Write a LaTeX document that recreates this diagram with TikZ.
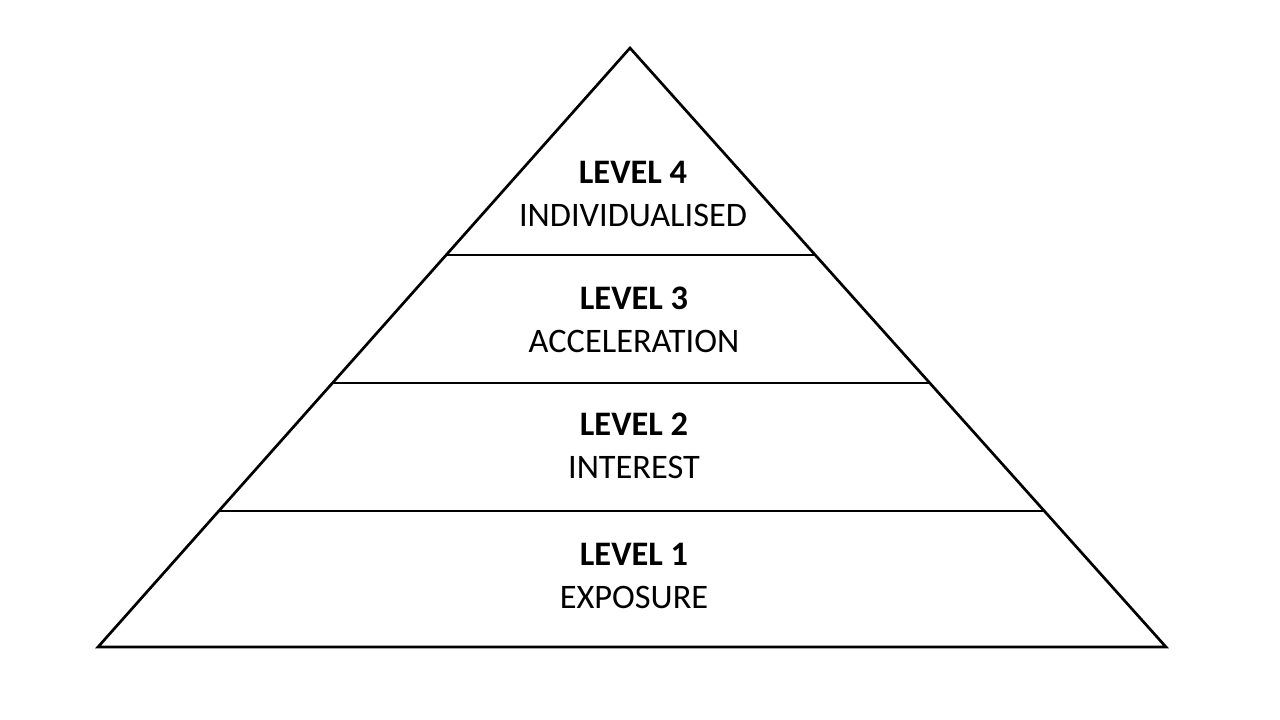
\documentclass[tikz,border=0pt]{standalone}
\usepackage{fontspec}
\setmainfont{Carlito}
\usetikzlibrary{calc}

\begin{document}
\begin{tikzpicture}
   [x=1bp,y=-1bp,line width=2.7bp,
    every node/.style={align=center,font=\fontsize{34.5}{43}\selectfont,inner sep=0pt}]

  \useasboundingbox (0,0) rectangle (1280,720);

  \coordinate (top) at (630,48);
  \coordinate (bl) at (98,647);
  \coordinate (br) at (1166,647);

  \draw[line join=miter] (top) -- (br) -- (bl) -- cycle;

  \foreach \t/\n in {0.3456/a,0.5593/b,0.7730/c}
  {
    \coordinate (l\n) at ($(top)!\t!(bl)$);
    \coordinate (r\n) at ($(top)!\t!(br)$);
    \draw (l\n) -- (r\n);
  }

  \node (lev4) at (633,194) {\textbf{LEVEL 4}\\INDIVIDUALISED};
  \node (lev3) at (634,320) {\textbf{LEVEL 3}\\ACCELERATION};
  \node (lev2) at (634,446) {\textbf{LEVEL 2}\\INTEREST};
  \node (lev1) at (634,576) {\textbf{LEVEL 1}\\EXPOSURE};

\end{tikzpicture}
\end{document}
